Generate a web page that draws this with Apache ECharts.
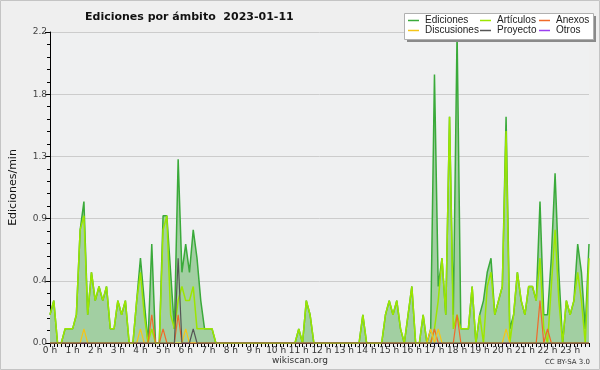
<!DOCTYPE html>
<html>
<head>
<meta charset="utf-8">
<script src="https://cdn.jsdelivr.net/npm/echarts@6/dist/echarts.min.js"></script>
<style>
html,body{margin:0;padding:0;background:#efefef;}
#chart{width:600px;height:370px;}
</style>
</head>
<body>
<div id="chart"></div>
<script>
// Hour tick labels (one category every 10 minutes, 6 per hour)
const hourLabels = ['0 h','1 h','2 h','3 h','4 h','5 h','6 h','7 h','8 h','9 h','10 h','11 h',
  '12 h','13 h','14 h','15 h','16 h','17 h','18 h','19 h','20 h','21 h','22 h','23 h'];
const minuteSlots = ['', ':10', ':20', ':30', ':40', ':50'];

// Edits per minute, one value per 10-minute slot (6 values per hour)
const ediciones = [
  0.2,0.3,0,0,0.1,0.1,     0.1,0.2,0.8,1.0,0.2,0.5,
  0.3,0.4,0.3,0.4,0.1,0.1, 0.3,0.2,0.3,0,0,0.3,
  0.6,0.3,0,0.7,0,0,       0.9,0.9,0.5,0.1,1.3,0.5,
  0.7,0.5,0.8,0.6,0.3,0.1, 0.1,0.1,0,0,0,0,
  0,0,0,0,0,0,             0,0,0,0,0,0,
  0,0,0,0,0,0,             0.1,0,0.3,0.2,0,0,
  0,0,0,0,0,0,             0,0,0,0,0,0.2,
  0,0,0,0,0,0.2,           0.3,0.2,0.3,0.1,0,0.2,
  0.4,0,0,0.2,0,0.1,       1.9,0.4,0.6,0.2,1.6,0.2,
  2.2,0.1,0.1,0.1,0.4,0,   0.2,0.3,0.5,0.6,0.2,0.3,
  0.4,1.6,0.1,0.2,0.5,0.3, 0.2,0.4,0.4,0.3,1.0,0.2,
  0.2,0.6,1.2,0.5,0,0.3,   0.2,0.3,0.7,0.5,0.1,0.7
];
const articulos = [
  0.2,0.3,0,0,0.1,0.1,     0.1,0.2,0.8,0.9,0.2,0.5,
  0.3,0.4,0.3,0.4,0.1,0.1, 0.3,0.2,0.3,0,0,0.3,
  0.5,0.2,0,0.1,0,0,       0.8,0.9,0.2,0.1,0.3,0.4,
  0.3,0.3,0.4,0.1,0.1,0.1, 0.1,0.1,0,0,0,0,
  0,0,0,0,0,0,             0,0,0,0,0,0,
  0,0,0,0,0,0,             0.1,0,0.3,0.2,0,0,
  0,0,0,0,0,0,             0,0,0,0,0,0.2,
  0,0,0,0,0,0.2,           0.3,0.2,0.3,0.1,0,0.2,
  0.4,0,0,0.2,0,0,         0.1,0.3,0.6,0.2,1.6,0.1,
  0.2,0.1,0.1,0.1,0.4,0,   0.2,0,0.4,0.5,0.2,0.3,
  0.4,1.5,0,0.2,0.5,0.3,   0.2,0.4,0.4,0.3,0.6,0.1,
  0,0.4,0.8,0.3,0,0.3,     0.2,0.3,0.5,0.3,0,0.6
];
const anexos = [
  0,0,0,0,0,0,   0,0,0,0,0,0,   0,0,0,0,0,0,   0,0,0,0,0,0,
  0,0,0,0.2,0,0, 0.1,0,0,0,0.2,0, 0,0,0,0,0,0, 0,0,0,0,0,0,
  0,0,0,0,0,0,   0,0,0,0,0,0,   0,0,0,0,0,0,   0,0,0,0,0,0,
  0,0,0,0,0,0,   0,0,0,0,0,0,   0,0,0,0,0,0,   0,0,0,0,0,0,
  0,0,0,0,0,0,   0.1,0,0,0,0,0, 0.2,0,0,0,0,0, 0,0,0,0,0,0,
  0,0,0,0,0,0,   0,0,0,0,0.3,0, 0.1,0,0,0,0,0, 0,0,0,0,0,0
];
const discusiones = [
  0,0,0,0,0,0,   0,0,0,0.1,0,0, 0,0,0,0,0,0,   0,0,0,0,0,0,
  0.1,0,0,0,0,0, 0,0,0,0,0,0,   0.1,0,0,0,0,0, 0,0,0,0,0,0,
  0,0,0,0,0,0,   0,0,0,0,0,0,   0,0,0,0,0,0,   0,0,0,0,0,0,
  0,0,0,0,0,0,   0,0,0,0,0,0,   0,0,0,0,0,0,   0,0,0,0,0,0,
  0,0,0,0,0,0.1, 0,0.1,0,0,0,0, 0,0,0,0,0,0,   0,0,0,0,0,0,
  0,0.1,0,0,0,0, 0,0,0,0,0,0,   0,0,0,0,0,0,   0,0,0,0,0,0
];
const proyecto = [
  0,0,0,0,0,0,   0,0,0,0,0,0,   0,0,0,0,0,0,   0,0,0,0,0,0,
  0,0,0,0,0,0,   0,0,0,0,0.6,0, 0,0,0.1,0,0,0, 0,0,0,0,0,0,
  0,0,0,0,0,0,   0,0,0,0,0,0,   0,0,0,0,0,0,   0,0,0,0,0,0,
  0,0,0,0,0,0,   0,0,0,0,0,0,   0,0,0,0,0,0,   0,0,0,0,0,0,
  0,0,0,0,0,0,   0,0,0,0,0,0,   0,0,0,0,0,0,   0,0,0,0,0,0,
  0,0,0,0,0,0,   0,0,0,0,0,0,   0,0,0,0,0,0,   0,0,0,0,0,0
];
const otros = [
  0,0,0,0,0,0,   0,0,0,0,0,0,   0,0,0,0,0,0,   0,0,0,0,0,0,
  0,0,0,0,0,0,   0,0,0,0,0,0,   0,0,0,0,0,0,   0,0,0,0,0,0,
  0,0,0,0,0,0,   0,0,0,0,0,0,   0,0,0,0,0,0,   0,0,0,0,0,0,
  0,0,0,0,0,0,   0,0,0,0,0,0,   0,0,0,0,0,0,   0,0,0,0,0,0,
  0,0,0,0,0,0,   0,0,0,0,0,0,   0,0,0,0,0,0,   0,0,0,0,0,0,
  0,0,0,0,0,0,   0,0,0,0,0,0,   0,0,0,0,0,0,   0,0,0,0,0,0
];

// categories: hour label for the first slot of each hour, time-key for the others
const categories = [];
hourLabels.forEach(h => minuteSlots.forEach(m => categories.push(m === '' ? h : h + m)));

const FONT = 'DejaVu Sans';
const NARROW = 'Liberation Sans';
const chart = echarts.init(document.getElementById('chart'), null, {renderer: 'canvas'});

function lineSeries(name, data, color, width, z, area) {
  const s = {
    name, type: 'line', data, showSymbol: false, symbol: 'none', smooth: false,
    lineStyle: {color, width}, itemStyle: {color}, z, animation: false
  };
  if (area) s.areaStyle = {color: area, opacity: 1};
  return s;
}

const legendCommon = {
  orient: 'vertical', top: 15.5, itemGap: 0, itemWidth: 11, itemHeight: 1.5,
  icon: 'rect', selectedMode: false, padding: 0, z: 20, itemStyle: {borderWidth: 0},
  textStyle: {fontFamily: NARROW, fontSize: 10, color: '#222', lineHeight: 9, padding: [0, 0, 0, 1]}
};

chart.setOption({
  backgroundColor: '#efefef',
  animation: false,
  title: {
    text: 'Ediciones por ámbito  2023-01-11', left: 80, top: 7,
    textStyle: {fontFamily: FONT, fontSize: 11, fontWeight: 'bold', color: '#111'}
  },
  legend: [
    Object.assign({}, legendCommon, {left: 408, data: ['Ediciones', 'Discusiones']}),
    Object.assign({}, legendCommon, {left: 480, data: ['Artículos', 'Proyecto']}),
    Object.assign({}, legendCommon, {left: 539, data: ['Anexos', 'Otros']})
  ],
  grid: {left: 46, right: 11, top: 32, bottom: 27, show: true, backgroundColor: '#eff0f1', borderWidth: 0},
  xAxis: {
    type: 'category', data: categories, boundaryGap: false,
    axisLine: {lineStyle: {color: '#000', width: 1}},
    axisTick: {interval: 0, length: 4, lineStyle: {color: '#000'}},
    axisLabel: {interval: 5, fontFamily: FONT, fontSize: 9, color: '#333', margin: 3},
    splitLine: {show: false}
  },
  yAxis: {
    type: 'value', min: 0, max: 2.2, interval: 0.44,
    name: 'Ediciones/min', nameLocation: 'middle', nameGap: 31,
    nameTextStyle: {fontFamily: FONT, fontSize: 11, color: '#111'},
    axisLine: {show: true, lineStyle: {color: '#000', width: 1}},
    axisTick: {show: true, length: 5, lineStyle: {color: '#000'}},
    minorTick: {show: true, splitNumber: 5, length: 3, lineStyle: {color: '#000'}},
    axisLabel: {fontFamily: FONT, fontSize: 9, color: '#444', margin: 3,
      formatter: v => v.toFixed(1)},
    splitLine: {show: true, lineStyle: {color: '#cccccc', width: 1}}
  },
  series: [
    lineSeries('Ediciones', ediciones, '#3aaa3a', 1.5, 2, '#a2cfa2'),
    lineSeries('Artículos', articulos, '#9ce600', 1.5, 3),
    lineSeries('Anexos', anexos, '#f06a2a', 1.2, 3),
    lineSeries('Discusiones', discusiones, '#f5c518', 1.2, 3),
    lineSeries('Proyecto', proyecto, '#555555', 1.2, 3),
    lineSeries('Otros', otros, '#9b3ff0', 1.2, 1)
  ],
  graphic: [
    {type: 'rect', z: 0, silent: true, shape: {x: 0.5, y: 0.5, width: 599, height: 369},
      style: {fill: null, stroke: '#c4c4c4', lineWidth: 1}},
    {type: 'rect', z: 8, silent: true, shape: {x: 407, y: 16, width: 189, height: 26},
      style: {fill: '#8a8a8a'}},
    {type: 'rect', z: 9, silent: true, shape: {x: 404.5, y: 13.5, width: 189, height: 26},
      style: {fill: '#ffffff', stroke: '#b0b0b0', lineWidth: 1}},
    {type: 'text', z: 9, silent: true, x: 300, y: 361,
      style: {text: 'wikiscan.org', fontFamily: FONT, fontSize: 9, fill: '#333', align: 'center', verticalAlign: 'middle'}},
    {type: 'text', z: 9, silent: true, x: 590, y: 362,
      style: {text: 'CC BY-SA 3.0', fontFamily: FONT, fontSize: 7, fill: '#333', align: 'right', verticalAlign: 'middle'}}
  ]
});
</script>
</body>
</html>
